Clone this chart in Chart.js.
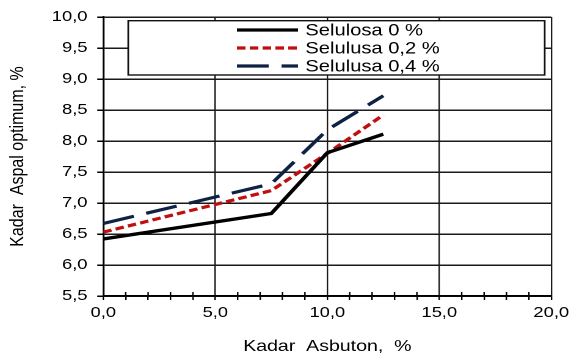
<!DOCTYPE html>
<html>
<head>
<meta charset="utf-8">
<script src="https://cdn.jsdelivr.net/npm/chart.js@4.4.0/dist/chart.umd.min.js"></script>
<style>
  html, body { margin: 0; padding: 0; background: #fff; }
  #grafik { display: block; }
</style>
</head>
<body>
<!-- canvas digambar 470 lebar lalu direntang ke 574 (huruf melebar seperti aslinya) -->
<canvas id="grafik" width="470" height="357" style="width:574px;height:357px"></canvas>
<script>
// --- data ---
const kadarAsbuton = [0, 7.5, 10, 12.5];          // sumbu X, %
const selulosa0   = [6.42, 6.83, 7.81, 8.11];
const selulosa02  = [6.53, 7.20, 7.80, 8.42];
const selulosa04  = [6.67, 7.31, 8.18, 8.73];
const seriesLabels = ['Selulosa 0 %', 'Selulusa 0,2 %', 'Selulusa 0,4 %'];

const xMajorTicks = [0, 5, 10, 15, 20];
const yTicks = [5.5, 6.0, 6.5, 7.0, 7.5, 8.0, 8.5, 9.0, 9.5, 10.0];

const FONT = '"Liberation Sans", Arial, sans-serif';
const koma = v => v.toFixed(1).replace('.', ',');
const titik = arr => arr.map((y, i) => ({ x: kadarAsbuton[i], y }));

// kotak legenda di dalam area grafik
const legendBox = {
  id: 'legendBox',
  beforeDatasetsDraw(chart) {
    const ctx = chart.ctx;
    const x0 = 105, y0 = 20.7, x1 = 446, y1 = 75;
    const rows = [30, 48, 66];
    ctx.save();
    ctx.fillStyle = '#fff';
    ctx.fillRect(x0, y0, x1 - x0, y1 - y0);
    ctx.strokeStyle = '#111';
    ctx.lineWidth = 1.4;
    ctx.strokeRect(x0, y0, x1 - x0, y1 - y0);
    ctx.font = '16.5px ' + FONT;
    ctx.textBaseline = 'middle';
    chart.data.datasets.forEach((ds, i) => {
      const y = rows[i];
      ctx.beginPath();
      ctx.setLineDash(ds.borderDash || []);
      ctx.strokeStyle = ds.borderColor;
      ctx.lineWidth = ds.borderWidth;
      ctx.moveTo(194, y);
      ctx.lineTo(244, y);
      ctx.stroke();
      ctx.setLineDash([]);
      ctx.fillStyle = '#000';
      ctx.fillText(ds.label, 250, y + 1);
    });
    ctx.restore();
  }
};

// tick kecil sumbu X yang menembus garis sumbu
const minorTicks = {
  id: 'minorTicks',
  afterDraw(chart) {
    const sx = chart.scales.x;
    const ctx = chart.ctx;
    const yb = chart.chartArea.bottom;
    ctx.save();
    ctx.strokeStyle = '#000';
    ctx.lineWidth = 1.2;
    sx.ticks.forEach(t => {
      if (xMajorTicks.includes(t.value)) return;
      const px = sx.getPixelForValue(t.value);
      ctx.beginPath();
      ctx.moveTo(px, yb - 4);
      ctx.lineTo(px, yb);
      ctx.stroke();
    });
    ctx.restore();
  }
};

const bgPutih = {
  id: 'bgPutih',
  beforeDraw(chart) {
    const ctx = chart.ctx;
    ctx.save();
    ctx.fillStyle = '#fff';
    ctx.fillRect(0, 0, chart.width, chart.height);
    ctx.restore();
  }
};

new Chart(document.getElementById('grafik'), {
  type: 'line',
  data: {
    datasets: [
      { label: seriesLabels[0], data: titik(selulosa0), borderColor: '#000', borderWidth: 3.3 },
      { label: seriesLabels[1], data: titik(selulosa02), borderColor: '#c00f0f', borderWidth: 3.2, borderDash: [7, 3.5] },
      { label: seriesLabels[2], data: titik(selulosa04), borderColor: '#0e2244', borderWidth: 3.2, borderDash: [26, 10.5] }
    ]
  },
  options: {
    responsive: false,
    devicePixelRatio: 2,
    animation: false,
    events: [],
    layout: { padding: { left: 0, right: 16, top: 15, bottom: 0 } },
    elements: {
      point: { radius: 0 },
      line: { tension: 0, fill: false, borderJoinStyle: 'miter' }
    },
    plugins: {
      legend: { display: false },
      tooltip: { enabled: false }
    },
    scales: {
      x: {
        type: 'linear',
        min: 0,
        max: 20,
        afterFit: s => { s.height = 61; },
        ticks: {
          stepSize: 1,
          autoSkip: false,
          maxRotation: 0,
          padding: 4,
          color: '#000',
          font: { family: FONT, size: 15 },
          callback: v => xMajorTicks.includes(v) ? koma(v) : ''
        },
        grid: {
          color: c => xMajorTicks.includes(c.tick.value) ? '#1a1a1a' : 'rgba(0,0,0,0)',
          lineWidth: 1.2,
          tickColor: '#000',
          tickLength: 4
        },
        border: { color: '#000', width: 1.6 },
        title: {
          display: true,
          text: 'Kadar  Asbuton,  %',
          color: '#000',
          font: { family: FONT, size: 16 },
          padding: { top: 0, bottom: 1 }
        }
      },
      y: {
        min: 5.5,
        max: 10,
        afterFit: s => { s.width = 84.6; },
        afterBuildTicks: s => { s.ticks = yTicks.map(v => ({ value: v })); },
        ticks: {
          padding: 8,
          color: '#000',
          font: { family: FONT, size: 15 },
          callback: v => koma(v)
        },
        grid: {
          color: '#1a1a1a',
          lineWidth: 1.5,
          tickColor: '#000',
          tickLength: 5
        },
        border: { color: '#000', width: 1.6 },
        title: {
          display: true,
          text: 'Kadar  Aspal optimum, %',
          color: '#000',
          font: { family: FONT, size: 16 },
          padding: { top: 5, bottom: 0 }
        }
      }
    }
  },
  plugins: [bgPutih, legendBox, minorTicks]
});
</script>
</body>
</html>
